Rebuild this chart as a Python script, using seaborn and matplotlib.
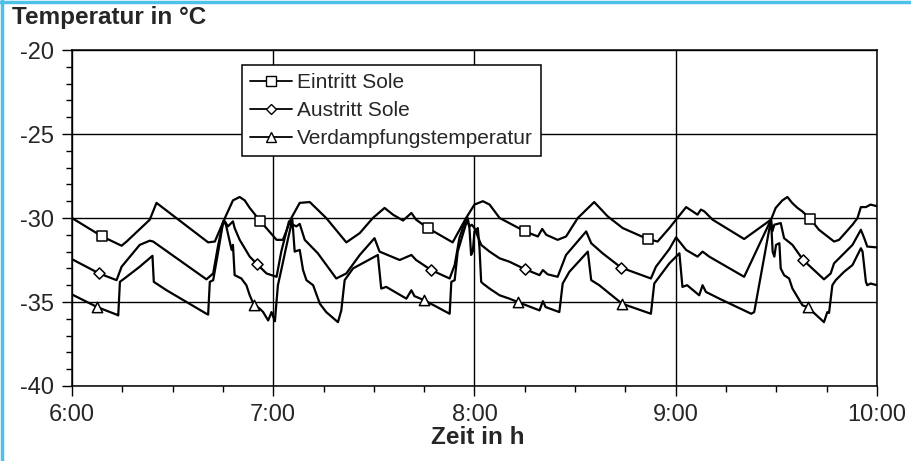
import numpy as np
import matplotlib
matplotlib.use("Agg")
import matplotlib.pyplot as plt
from matplotlib.lines import Line2D
from matplotlib.ticker import MultipleLocator
import seaborn as sns

# Zeit in Minuten ab 6:00, Temperaturen in °C
t_ein = [0, 9.0, 14.8, 16.3, 23.2, 25.2, 40.6, 42.6, 45.6, 48.0, 50.0, 51.5, 53.0, 56.0,
         61.0, 62.9, 65.4, 67.9, 70.9, 75.8, 81.8, 85.8, 89.7, 93.2, 95.7, 98.7, 101.2,
         102.6, 106.1, 113.5, 117.5, 120.0, 122.5, 124.5, 127.5, 135.1, 138.9, 140.2,
         141.4, 144.8, 147.3, 150.8, 155.7, 159.7, 164.2, 171.6, 174.6, 178.1, 180.1,
         183.1, 186.5, 187.5, 188.5, 191.0, 200.4, 208.4, 209.8, 211.8, 213.3, 214.7,
         216.3, 217.7, 220.1, 222.7, 227.2, 228.7, 232.7, 234.2, 235.2, 236.7, 238.1, 240.0]
T_ein = [-30.0, -31.1, -31.65, -31.4, -30.1, -29.1, -31.45, -31.4, -30.0, -28.95, -28.75,
         -28.95, -29.4, -30.15, -31.3, -31.3, -30.0, -29.1, -29.05, -30.0, -31.45, -30.9,
         -30.0, -29.4, -29.8, -30.15, -29.7, -30.1, -30.6, -31.45, -30.0, -29.2, -29.0,
         -29.2, -30.0, -30.8, -31.1, -30.65, -31.0, -31.3, -31.1, -30.0, -29.05, -29.9,
         -30.6, -31.25, -31.4, -30.6, -30.1, -29.35, -29.8, -29.5, -29.6, -30.1, -31.25,
         -30.1, -29.4, -28.95, -28.75, -29.1, -29.4, -29.6, -30.05, -30.7, -31.4, -31.3,
         -30.4, -30.0, -29.35, -29.35, -29.2, -29.3]

t_aus = [0, 8.1, 13.3, 14.8, 20.2, 23.2, 24.2, 40.1, 42.1, 43.6, 45.1, 45.6, 46.5, 48.0,
         48.5, 50.0, 53.0, 55.2, 58.0, 61.0, 62.4, 64.7, 65.4, 66.9, 67.9, 69.4, 73.3,
         78.8, 81.8, 85.8, 90.2, 91.7, 97.7, 101.2, 102.6, 107.1, 112.6, 114.1, 115.5,
         117.5, 118.5, 119.2, 120.0, 122.0, 124.5, 127.5, 130.4, 135.1, 139.4, 140.4,
         141.8, 144.8, 147.3, 153.3, 154.8, 158.2, 163.7, 172.6, 174.1, 178.1, 180.1,
         183.1, 186.5, 188.0, 190.0, 200.4, 208.4, 208.8, 209.4, 211.3, 212.3, 214.8,
         218.0, 224.2, 226.2, 227.2, 230.2, 232.7, 235.2, 236.2, 237.1, 240.0]
T_aus = [-32.45, -33.3, -33.7, -32.9, -31.6, -31.35, -31.4, -33.65, -33.3, -31.6, -30.2,
         -30.2, -30.5, -30.2, -30.6, -31.3, -32.3, -32.75, -33.3, -33.5, -32.0, -30.2,
         -30.35, -30.5, -30.35, -31.3, -32.1, -33.6, -33.3, -32.2, -31.2, -32.0, -32.5,
         -32.2, -32.5, -33.1, -33.6, -32.8, -31.2, -30.0, -30.5, -30.4, -30.6, -31.6,
         -32.0, -32.4, -32.6, -33.05, -33.4, -33.1, -33.35, -33.5, -32.2, -30.8, -31.5,
         -32.1, -32.95, -33.6, -32.9, -31.85, -31.15, -31.9, -32.3, -32.0, -32.3, -33.5,
         -30.1, -30.8, -30.4, -30.3, -31.2, -31.6, -32.5, -33.65, -33.3, -32.7, -32.1,
         -31.6, -30.7, -31.2, -31.7, -31.75]

t_ver = [0, 7.5, 13.3, 13.8, 14.3, 16.3, 20.2, 24.0, 24.4, 28.2, 40.1, 40.6, 41.1, 42.1,
         43.6, 45.1, 45.9, 47.6, 48.0, 48.5, 50.5, 52.0, 53.0, 54.2, 56.0, 57.0, 58.5,
         59.5, 60.5, 61.4, 62.4, 63.9, 65.7, 66.4, 67.9, 68.9, 69.9, 71.9, 73.9, 75.8,
         79.3, 80.3, 81.3, 83.8, 91.2, 92.2, 93.7, 99.7, 101.2, 102.1, 105.1, 112.6,
         113.1, 114.1, 115.0, 116.5, 118.0, 118.5, 119.0, 119.5, 120.0, 121.0, 121.5,
         122.0, 122.5, 124.5, 127.5, 130.4, 132.9, 139.4, 140.4, 141.2, 145.3, 146.3,
         148.3, 153.8, 154.8, 157.2, 164.0, 172.6, 173.6, 178.1, 181.1, 182.0, 183.4,
         187.0, 188.0, 189.0, 193.0, 202.5, 203.4, 208.4, 208.9, 209.4, 209.9, 210.9,
         211.3, 212.3, 213.8, 214.8, 216.3, 217.8, 219.3, 224.2, 225.2, 225.7, 226.7,
         227.7, 230.2, 232.7, 234.7, 235.2, 235.7, 236.7, 237.1, 238.1, 240.0]
T_ver = [-34.55, -35.3, -35.75, -35.8, -33.8, -33.5, -32.9, -32.25, -33.8, -34.3, -35.7,
         -35.75, -33.8, -33.7, -32.0, -30.2, -30.4, -31.9, -31.6, -33.4, -33.6, -34.0,
         -34.6, -35.15, -35.4, -35.6, -36.1, -35.6, -36.15, -34.0, -33.1, -31.7, -30.1,
         -32.0, -31.9, -33.1, -33.7, -34.0, -35.1, -35.6, -36.2, -35.5, -33.7, -33.0,
         -32.2, -34.2, -34.1, -34.8, -34.3, -34.65, -34.9, -35.7, -33.8, -33.7, -32.0,
         -31.0, -30.0, -30.6, -32.2, -32.0, -30.8, -30.6, -31.8, -33.8, -33.9, -34.2,
         -34.6, -34.8, -35.0, -35.5, -34.95, -35.3, -35.6, -33.9, -33.2, -32.0, -33.7,
         -34.0, -35.1, -35.7, -33.9, -32.7, -32.1, -34.1, -34.0, -34.6, -34.0, -34.4,
         -34.8, -35.7, -35.6, -30.1, -32.0, -32.3, -31.6, -31.5, -33.0, -33.4, -33.6,
         -34.2, -34.7, -35.2, -35.3, -36.2, -35.6, -35.65, -34.0, -33.7, -33.2, -32.8,
         -32.0, -31.8, -32.0, -33.8, -34.0, -33.9, -34.0]

# Zeitpunkte der Symbole
mark_ein = [9.0, 56.0, 106.1, 135.1, 171.6, 220.1]
mark_aus = [8.1, 55.2, 107.1, 135.1, 163.7, 218.0]
mark_ver = [7.5, 54.2, 105.1, 132.9, 164.0, 219.3]

labels = ["Eintritt Sole", "Austritt Sole", "Verdampfungstemperatur"]
hour_ticks = [6, 7, 8, 9, 10]
hour_labels = ["6:00", "7:00", "8:00", "9:00", "10:00"]

sns.set_style("white")
plt.rcParams["font.family"] = ["Liberation Sans", "DejaVu Sans"]
plt.rcParams["axes.unicode_minus"] = False

fig = plt.figure(figsize=(9.12, 4.61), dpi=100)
ax = fig.add_axes([0.0789, 0.1627, 0.8827, 0.7288])

series = [(t_ein, T_ein, mark_ein, "s", 48),
          (t_aus, T_aus, mark_aus, "D", 32),
          (t_ver, T_ver, mark_ver, "^", 55)]

for t, T, marks, mk, size in series:
    t = np.array(t)
    T = np.array(T)
    hours = 6 + t / 60.0
    sns.lineplot(x=hours, y=T, ax=ax, color="black", lw=1.6, legend=False, sort=False)
    idx = [int(np.argmin(np.abs(t - m))) for m in marks]
    sns.scatterplot(x=hours[idx], y=T[idx], ax=ax, marker=mk, s=size, color="white",
                    edgecolor="black", linewidth=1.1, zorder=4, legend=False)

ax.set_xlim(6, 10)
ax.set_ylim(-40, -20)
ax.set_xticks(hour_ticks)
ax.set_xticklabels(hour_labels)
ax.xaxis.set_minor_locator(MultipleLocator(0.25))
ax.yaxis.set_major_locator(MultipleLocator(5))
ax.yaxis.set_minor_locator(MultipleLocator(1))
ax.tick_params(axis="both", which="major", direction="out", length=7, width=1,
               color="black", labelsize=17, pad=6)
ax.tick_params(axis="both", which="minor", direction="out", length=4, width=1,
               color="black")
ax.tick_params(left=True, bottom=True, which="both")
ax.grid(True, which="major", color="black", lw=1.0)
for sp in ax.spines.values():
    sp.set_visible(True)
    sp.set_color("black")
    sp.set_linewidth(1.1)
ax.set_xlabel("")
ax.set_ylabel("")

handles = [Line2D([], [], color="black", lw=1.3, marker=m, markersize=ms,
                  markerfacecolor="white", markeredgecolor="black", markeredgewidth=1.0)
           for m, ms in [("s", 7), ("D", 5.5), ("^", 7)]]
leg = ax.legend(handles, labels, loc="upper left", bbox_to_anchor=(0.211, 0.955),
                fontsize=15, frameon=True, fancybox=False, framealpha=1,
                handlelength=2.0, handletextpad=0.25, borderpad=0.4, labelspacing=0.42,
                borderaxespad=0)
leg.get_frame().set_edgecolor("black")
leg.get_frame().set_linewidth(1.1)

fig.text(0.013, 0.961, "Temperatur in °C", fontsize=17.5, fontweight="bold",
         ha="left", va="center")
fig.text(0.524, 0.05, "Zeit in h", fontsize=17.5, fontweight="bold",
         ha="center", va="center")

blue = "#4FC0EA"
fig.add_artist(Line2D([0, 1], [0.996, 0.996], transform=fig.transFigure, color=blue, lw=2.5))
fig.add_artist(Line2D([0.002, 0.002], [0, 1], transform=fig.transFigure, color=blue, lw=2.5))

fig.savefig("out.png", dpi=100)
